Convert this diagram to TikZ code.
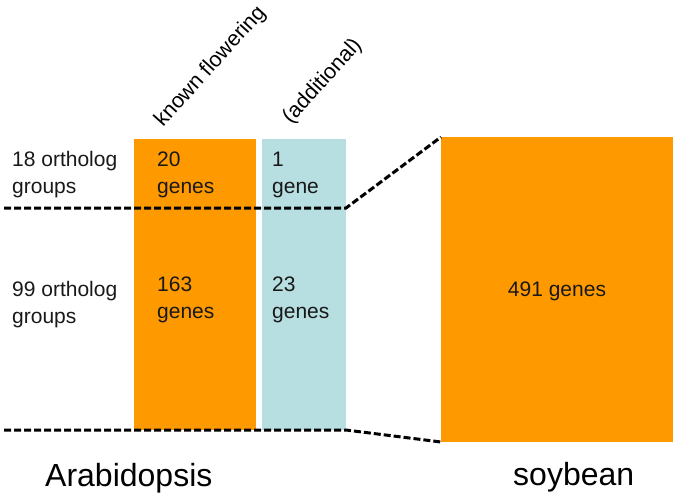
\documentclass[tikz,border=0pt]{standalone}
\usepackage{fontspec}
\setmainfont{Liberation Sans}
\usepackage{xcolor}
\usetikzlibrary{positioning}
\definecolor{orng}{RGB}{255,153,0}
\definecolor{lblue}{RGB}{183,222,224}

\begin{document}
\begin{tikzpicture}[
  x=1pt,y=-1pt,
  bar/.style={inner sep=0pt,outer sep=0pt,anchor=north west},
  lbl/.style={font=\fontsize{21}{27}\selectfont,align=left,anchor=base west,inner sep=0pt,text=black!90},
  head/.style={font=\fontsize{21.5}{24}\selectfont,rotate=48,anchor=base west,inner sep=0pt},
  big/.style={font=\fontsize{32}{38}\selectfont,anchor=base west,inner sep=0pt},
  cut/.style={line width=3pt,dash pattern=on 7pt off 3pt}
]
\useasboundingbox (0,0) rectangle (679,498);
% --- Arabidopsis columns ---
\node[bar,fill=orng,minimum width=122pt,minimum height=291pt] (known) at (134,139) {};
\node[bar,fill=lblue,minimum width=84pt,minimum height=291pt,right=6pt of known.north east,anchor=north west] (extra) {};
% --- soybean block ---
\node[bar,fill=orng,minimum width=232pt,minimum height=305pt] (soy) at (441,137) {};
% column headings
\node[head] (hknown) at (163,128) {known flowering};
\node[head] (hextra) at (291,125) {(additional)};
% row labels (anchored at the last line)
\node[lbl] (grp18) at (12,193) {18 ortholog\\groups};
\node[lbl] (grp99) at (12,323) {99 ortholog\\groups};
\node[lbl] (k20) at (157,193) {20\\genes};
\node[lbl] (a1) at (272,193) {1\\gene};
\node[lbl] (k163) at (157,318) {163\\genes};
\node[lbl] (a23) at (272,318) {23\\genes};
\node[lbl,anchor=base] (s491) at (soy.center |- 0,296) {491 genes};
% species names
\node[big] (arab) at (45,486) {Arabidopsis};
\node[big] (soyname) at (513,485) {soybean};
% --- dashed cut lines ---
\coordinate (upper) at (4,208);
\coordinate (lower) at (4,430);
\draw[cut] (upper) -- (upper -| extra.east) -- (soy.north west);
\draw[cut] (lower) -- (extra.south east) -- (soy.south west);
\end{tikzpicture}
\end{document}
